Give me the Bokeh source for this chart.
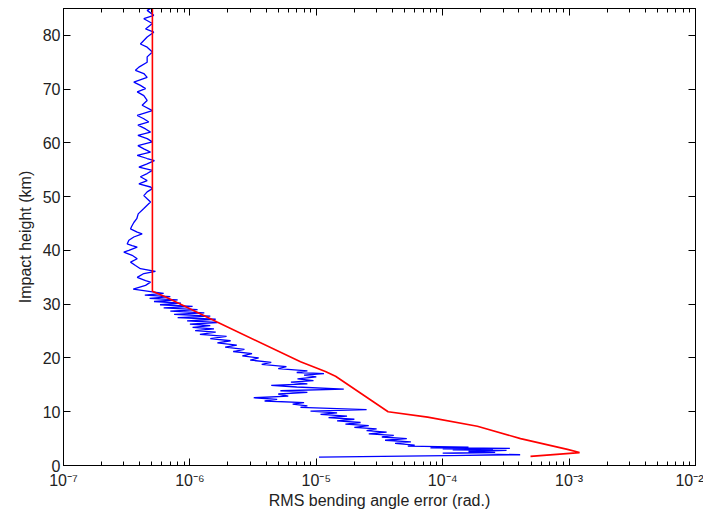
from bokeh.plotting import figure
from bokeh.models import LogAxis, LinearAxis, FixedTicker
from bokeh.embed import file_html
from bokeh.resources import INLINE

# ---------------- data ----------------
x_decades = [1e-7, 1e-6, 1e-5, 1e-4, 1e-3, 1e-2]
x_tick_labels = ["10\u207b\u2077", "10\u207b\u2076", "10\u207b\u2075",
                 "10\u207b\u2074", "10\u207b\u00b3", "10\u207b\u00b2"]
y_ticks = [0, 10, 20, 30, 40, 50, 60, 70, 80]

# red curve (height km, RMS error rad)
red_km = [85.0, 32.4, 31.3, 26.7, 19.3, 17.5, 16.6, 10.0, 9.0, 7.3, 5.0, 3.0, 2.4, 1.7]
red_val = [5.05e-7, 5.05e-7, 6.5e-7, 1.64e-6, 7.5e-6, 1.18e-5, 1.42e-5, 3.7e-5,
           7.6e-5, 1.88e-4, 4.13e-4, 9.7e-4, 1.21e-3, 4.95e-4]

# blue curve, upper part (km, rad)
blue_km_upper = [85.0, 84.65, 83.72, 83.1, 82.2, 81.2, 80.6, 79.7, 78.4, 77.8, 76.9, 76.0,
                 75.0, 74.1, 73.5, 72.9, 72.2, 71.3, 70.7, 70.1, 69.5, 68.8, 67.9, 67.0,
                 66.0, 65.1, 64.5, 63.9, 63.3, 62.6, 62.0, 61.4, 60.8, 60.2, 59.5, 58.9,
                 58.3, 57.7, 57.1, 56.7, 56.1, 55.5, 54.9, 54.3, 53.7, 53.0, 52.4, 51.8,
                 51.5, 50.9, 50.2, 49.6, 49.0, 48.4, 47.8, 46.8, 45.9, 45.2, 44.4, 44.0,
                 43.4, 43.1, 42.5, 41.9, 41.2, 40.9, 40.6, 40.0, 39.7, 39.1, 38.45, 37.83,
                 37.2, 36.6, 36.1, 35.7, 35.0, 34.4, 34.1, 33.5, 32.8, 32.3]
blue_val_upper = [4.9e-7, 4.59e-7, 5.18e-7, 4.32e-7, 5.05e-7, 4.46e-7, 5.18e-7, 4.59e-7,
                  4.06e-7, 4.59e-7, 5.05e-7, 4.59e-7, 4.59e-7, 3.95e-7, 3.71e-7, 4.32e-7,
                  4.59e-7, 3.60e-7, 4.06e-7, 4.46e-7, 3.83e-7, 4.32e-7, 4.59e-7, 4.19e-7,
                  5.05e-7, 3.83e-7, 4.32e-7, 4.73e-7, 3.88e-7, 4.46e-7, 4.88e-7, 3.88e-7,
                  4.59e-7, 5.05e-7, 3.88e-7, 4.32e-7, 4.88e-7, 3.83e-7, 4.59e-7, 5.24e-7,
                  4.59e-7, 3.95e-7, 5.05e-7, 4.59e-7, 4.06e-7, 4.59e-7, 3.95e-7, 4.88e-7,
                  5.05e-7, 4.59e-7, 4.32e-7, 4.59e-7, 4.88e-7, 4.59e-7, 4.32e-7, 3.9e-7,
                  3.8e-7, 3.6e-7, 3.45e-7, 3.39e-7, 3.83e-7, 4.19e-7, 3.60e-7, 3.29e-7,
                  3.19e-7, 3.49e-7, 3.83e-7, 3.29e-7, 3.0e-7, 3.49e-7, 3.83e-7, 3.39e-7,
                  3.71e-7, 4.06e-7, 5.34e-7, 4.32e-7, 3.83e-7, 4.46e-7, 4.88e-7, 4.46e-7,
                  3.56e-7, 5.05e-7]

# blue curve, lower part (km, rad)
blue_km_lower = [32.0, 31.7, 31.4, 31.1, 30.8, 30.5, 30.2, 29.9, 29.6, 29.3, 29.0, 28.7,
                 28.4, 28.1, 27.8, 27.5, 27.2, 26.9, 26.6, 26.3, 26.0, 25.7, 25.4, 25.1,
                 24.8, 24.4, 24.0, 23.6, 23.2, 22.8, 22.4, 22.0, 21.6, 21.2, 20.8, 20.4,
                 20.0, 19.6, 19.2, 18.8, 18.4, 18.0, 17.6, 17.3, 17.1, 16.8, 16.5, 16.1,
                 15.8, 15.5, 15.2, 14.9, 14.6, 14.2, 13.9, 13.6, 13.3, 12.9, 12.6, 12.3,
                 12.0, 11.7, 11.4, 11.1, 10.8, 10.4, 10.1, 9.8, 9.5, 9.2, 8.9, 8.6,
                 8.3, 8.0, 7.7, 7.4, 7.1, 6.8, 6.5, 6.2, 5.9, 5.6, 5.3, 5.0,
                 4.7, 4.4, 4.1, 3.8, 3.6, 3.4, 3.3, 3.2, 3.1, 3.0, 2.9, 2.8,
                 2.6, 2.45, 2.3, 2.0, 1.55]
blue_val_lower = [6.2e-7, 4.4e-7, 7.0e-7, 4.8e-7, 8.0e-7, 5.2e-7, 8.5e-7, 5.8e-7, 1.05e-6,
                  6.2e-7, 1.15e-6, 7.0e-7, 1.30e-6, 7.5e-7, 1.45e-6, 8.0e-7, 1.60e-6,
                  9.5e-7, 1.65e-6, 1.0e-6, 1.45e-6, 1.05e-6, 1.55e-6, 1.1e-6, 1.6e-6,
                  1.2e-6, 1.95e-6, 1.45e-6, 2.1e-6, 1.65e-6, 2.35e-6, 1.9e-6, 2.7e-6,
                  2.2e-6, 3.1e-6, 2.6e-6, 3.5e-6, 3.0e-6, 4.4e-6, 3.7e-6, 5.8e-6, 5.0e-6,
                  8.5e-6, 7.0e-6, 1.15e-5, 8.0e-6, 1.0e-5, 7.1e-6, 9.5e-6, 6.3e-6, 8.5e-6,
                  4.4e-6, 7.0e-6, 1.65e-5, 5.2e-6, 8.5e-6, 5.0e-6, 6.0e-6, 3.2e-6, 4.9e-6,
                  3.9e-6, 8.0e-6, 6.5e-6, 8.5e-6, 7.5e-6, 2.5e-5, 9.0e-6, 1.46e-5, 1.08e-5,
                  1.75e-5, 1.25e-5, 2.0e-5, 1.46e-5, 2.24e-5, 1.7e-5, 2.6e-5, 2.0e-5,
                  3.0e-5, 2.5e-5, 3.6e-5, 2.6e-5, 4.1e-5, 3.3e-5, 5.2e-5, 3.5e-5, 5.6e-5,
                  4.2e-5, 6.0e-5, 5.3e-5, 1.6e-4, 8.0e-5, 3.4e-4, 1.0e-4, 2.5e-4, 1.2e-4,
                  3.2e-4, 1.6e-4, 2.6e-4, 1.0e-4, 4.1e-4, 1.05e-5]

blue_km = blue_km_upper + blue_km_lower
blue_val = blue_val_upper + blue_val_lower

# ---------------- figure ----------------
FONT = "Liberation Sans"
minor = [m * d for d in x_decades[:-1] for m in range(2, 10)]

p = figure(frame_width=632, frame_height=457, x_axis_type="log",
           x_range=(1e-7, 1e-2), y_range=(0, 85),
           output_backend="svg", toolbar_location=None,
           min_border_left=63, min_border_right=8,
           min_border_top=8, min_border_bottom=0)
p.grid.visible = False
p.outline_line_color = "black"
p.outline_line_width = 1
p.background_fill_color = "white"
p.border_fill_color = "white"

xt = FixedTicker(ticks=x_decades, minor_ticks=minor)
yt = FixedTicker(ticks=y_ticks, minor_ticks=[])

def style(ax, labels=True):
    ax.axis_line_color = "black"
    ax.axis_line_width = 1
    ax.major_tick_line_color = "black"
    ax.minor_tick_line_color = "black"
    ax.major_tick_in = 7
    ax.major_tick_out = 0
    ax.minor_tick_in = 4
    ax.minor_tick_out = 0
    ax.major_label_text_font = FONT
    ax.axis_label_text_font = FONT
    ax.axis_label_text_font_style = "normal"
    ax.axis_label_text_color = "#222222"
    ax.major_label_text_font_size = "16px"
    ax.axis_label_text_font_size = "16px"
    if labels:
        ax.major_label_text_color = "#222222"
    else:
        ax.major_label_text_color = None
        ax.major_label_standoff = 0

xa = p.xaxis[0]
xa.ticker = xt
xa.major_label_overrides = dict(zip(x_decades, x_tick_labels))
xa.axis_label = "RMS bending angle error (rad.)"
style(xa)
xa.major_label_standoff = 6
xa.axis_label_standoff = 0

ya = p.yaxis[0]
ya.ticker = yt
ya.axis_label = "Impact height (km)"
style(ya)
ya.major_label_standoff = 3
ya.axis_label_standoff = 6

top = LogAxis(ticker=xt)
style(top, labels=False)
top.major_label_overrides = {t: "" for t in x_decades}
p.add_layout(top, "above")

right = LinearAxis(ticker=yt)
style(right, labels=False)
right.major_label_overrides = {t: "" for t in y_ticks}
p.add_layout(right, "right")

p.line(blue_val, blue_km, line_color="#0000ff", line_width=1.3)
p.line(red_val, red_km, line_color="#ff0000", line_width=1.6)

open("out.html", "w").write(file_html(p, INLINE))
